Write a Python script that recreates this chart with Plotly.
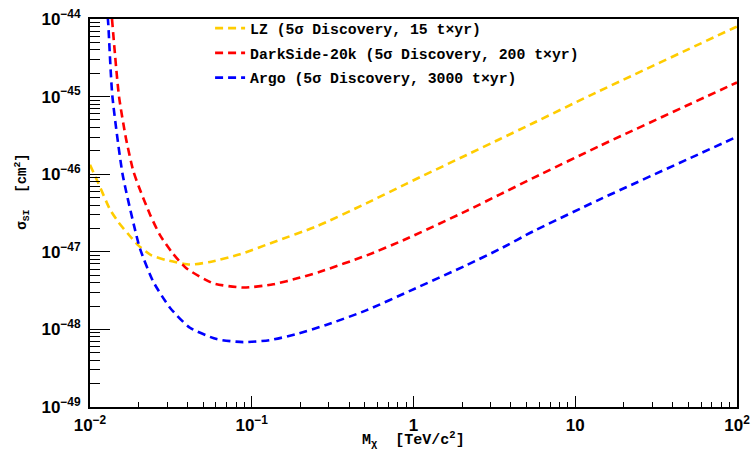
import plotly.graph_objects as go

# ---- data ----
lz_mass = [0.0100, 0.01125, 0.0133, 0.0150, 0.0172, 0.0199, 0.0240, 0.0298, 0.0415, 0.0552,
           0.0846, 0.136, 0.252, 0.514, 0.908, 2.13, 3.43, 5.51, 12.3, 94.8, 100]
lz_sigma = [1.32e-46, 7.7e-47, 3.5e-47, 2.4e-47, 1.7e-47, 1.21e-47, 9.0e-48, 7.8e-48, 6.85e-48, 7.4e-48,
            9.3e-48, 1.33e-47, 2.13e-47, 4.24e-47, 7.57e-47, 1.77e-46, 2.84e-46, 4.57e-46, 1.03e-45,
            7.6e-45, 8.0e-45]

ds_mass = [0.01368, 0.0151, 0.01669, 0.01852, 0.02038, 0.02349, 0.02709, 0.0327, 0.0396, 0.0578,
           0.0887, 0.136, 0.199, 0.264, 0.514, 0.865, 2.13, 3.43, 5.51, 14.2, 90.3, 100]
ds_sigma = [1.0e-44, 1.02e-45, 2.89e-46, 1.10e-46, 6.29e-47, 3.03e-47, 1.64e-47, 9.38e-48, 6.1e-48, 3.93e-48,
            3.46e-48, 3.81e-48, 4.65e-48, 5.53e-48, 9.0e-48, 1.41e-47, 3.37e-47, 5.5e-47, 8.95e-47, 2.32e-46,
            1.38e-45, 1.52e-45]

argo_mass = [0.01288, 0.01298, 0.01374, 0.0159, 0.0187, 0.0204, 0.0246, 0.0313, 0.0415, 0.0607,
             0.0887, 0.1285, 0.188, 0.288, 0.514, 0.951, 2.13, 3.43, 5.51, 14.2, 94.8, 100]
argo_sigma = [1.05e-44, 8.4e-45, 1.03e-45, 1.0e-46, 2.19e-47, 1.09e-47, 4.13e-48, 1.89e-48, 1.05e-48, 7.5e-49,
              6.85e-49, 7.26e-49, 8.67e-49, 1.14e-48, 1.77e-48, 3.14e-48, 6.73e-48, 1.09e-47, 1.84e-47, 4.74e-47,
              2.89e-46, 3.05e-46]

series_names = ["LZ (5σ Discovery, 15 t×yr)",
                "DarkSide-20k (5σ Discovery, 200 t×yr)",
                "Argo (5σ Discovery, 3000 t×yr)"]
series_colors = ["#FFCC00", "#FF0000", "#0000FF"]

x_tickvals = [0.01, 0.1, 1, 10, 100]
x_ticktext = ["10<sup>−2</sup>", "10<sup>−1</sup>", "1", "10", "10<sup>2</sup>"]
y_tickvals = [1e-49, 1e-48, 1e-47, 1e-46, 1e-45, 1e-44]
y_ticktext = ["10<sup>−49</sup>", "10<sup>−48</sup>", "10<sup>−47</sup>",
              "10<sup>−46</sup>", "10<sup>−45</sup>", "10<sup>−44</sup>"]

x_title = "M<sub>χ</sub>  [TeV/c<sup>2</sup>]"
y_title = "σ<sub>SI</sub>  [cm<sup>2</sup>]"

# ---- figure ----
fig = go.Figure()
for xs, ys, name, col in zip([lz_mass, ds_mass, argo_mass],
                             [lz_sigma, ds_sigma, argo_sigma],
                             series_names, series_colors):
    fig.add_trace(go.Scatter(x=xs, y=ys, mode="lines", name=name, legendgroup=name,
                             line=dict(color=col, width=2.6, dash="8px,5px", shape="spline", smoothing=0.6)))

x_minor = [m * 10 ** e for e in range(-2, 2) for m in range(2, 10)]
y_minor = [m * 10.0 ** e for e in range(-49, -44) for m in range(2, 10)]

mono = "Liberation Mono"
fig.update_layout(
    width=752, height=450,
    margin=dict(l=90, r=15, t=14, b=43),
    paper_bgcolor="white", plot_bgcolor="white",
    showlegend=True,
    legend=dict(x=0.1856, y=1.018, xanchor="left", yanchor="top",
                bgcolor="rgba(0,0,0,0)", borderwidth=0,
                font=dict(family=mono, size=14.8, color="black", weight="bold"),
                tracegroupgap=2.5, traceorder="grouped"),
    xaxis=dict(type="log", range=[-2, 2], showgrid=False, zeroline=False, automargin=False,
               showline=True, linecolor="black", linewidth=2, mirror=True,
               ticks="inside", ticklen=11, tickwidth=1, tickcolor="black",
               tickvals=x_tickvals, ticktext=x_ticktext, ticklabelstandoff=2,
               tickfont=dict(family="Liberation Sans", size=17, color="black", weight="bold"),
               minor=dict(ticks="inside", ticklen=5.5, tickwidth=1, tickcolor="black", tickvals=x_minor)),
    yaxis=dict(type="log", range=[-49, -44], showgrid=False, zeroline=False, automargin=False,
               showline=True, linecolor="black", linewidth=2, mirror=True,
               ticks="inside", ticklen=20, tickwidth=1, tickcolor="black",
               tickvals=y_tickvals, ticktext=y_ticktext, ticklabelstandoff=4,
               tickfont=dict(family="Liberation Sans", size=17, color="black", weight="bold"),
               minor=dict(ticks="inside", ticklen=10, tickwidth=1, tickcolor="black", tickvals=y_minor)),
    annotations=[
        dict(text=x_title, xref="paper", yref="paper", x=0.5, y=-0.084, xanchor="center", yanchor="middle",
             showarrow=False, font=dict(family=mono, size=15, color="black", weight="bold")),
        dict(text=y_title, xref="paper", yref="paper", x=-0.105, y=0.555, xanchor="center", yanchor="middle",
             textangle=-90, showarrow=False, font=dict(family=mono, size=14, color="black", weight="bold")),
    ],
)

fig.write_html("out.html", config={"displayModeBar": False},
               post_script="document.body.style.margin='0';document.body.style.overflow='hidden';")
